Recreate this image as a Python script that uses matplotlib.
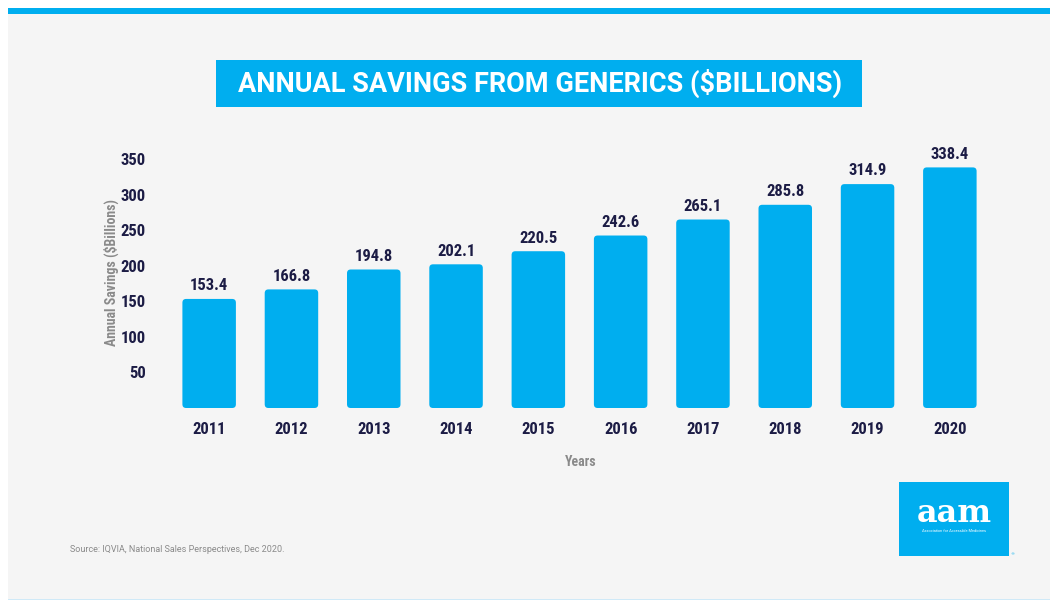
import matplotlib
matplotlib.use("Agg")
import matplotlib.pyplot as plt
from matplotlib.patches import Rectangle, FancyBboxPatch
from matplotlib import font_manager

years = ["2011", "2012", "2013", "2014", "2015", "2016", "2017", "2018", "2019", "2020"]
savings = [153.4, 166.8, 194.8, 202.1, 220.5, 242.6, 265.1, 285.8, 314.9, 338.4]
yticks = [50, 100, 150, 200, 250, 300, 350]

names = {f.name for f in font_manager.fontManager.ttflist}
cond = "Roboto"
for cand in ["Roboto Condensed", "IBM Plex Sans Condensed", "Open Sans Condensed", "Liberation Sans Narrow"]:
    if cand in names:
        cond = cand
        break

BLUE = "#00AEEF"
NAVY = "#1c1c45"
LGREY = "#8a8a8a"
W, H = 1058, 601
fig = plt.figure(figsize=(W / 100, H / 100), dpi=100)
fig.patch.set_facecolor("white")

def fx(x): return x / W
def fy(y): return 1 - y / H

# background panel
fig.patches.append(Rectangle((fx(8), fy(599)), fx(1050) - fx(8), fy(14) - fy(599),
                             transform=fig.transFigure, facecolor="#f5f5f5", edgecolor="none", zorder=-2))
# top blue bar
fig.patches.append(Rectangle((fx(8), fy(14)), fx(1050) - fx(8), fy(8) - fy(14),
                             transform=fig.transFigure, facecolor=BLUE, edgecolor="none", zorder=-1))
# bottom thin line
fig.patches.append(Rectangle((fx(8), fy(600)), fx(1050) - fx(8), fy(598.5) - fy(600),
                             transform=fig.transFigure, facecolor="#cfe9f7", edgecolor="none", zorder=-1))
# title box
fig.patches.append(Rectangle((fx(216), fy(107)), fx(862) - fx(216), fy(60) - fy(107),
                             transform=fig.transFigure, facecolor=BLUE, edgecolor="none", zorder=-1))
fig.text(fx(540), fy(83), "ANNUAL SAVINGS FROM GENERICS ($BILLIONS)", color="white",
         fontsize=19.5, fontweight="bold", family="Roboto", ha="center", va="center")

# axes
left, right = 168, 991
ymax = 360
px_per = 0.711
top = 408 - ymax * px_per
ax = fig.add_axes([fx(left), fy(408), fx(right) - fx(left), fy(top) - fy(408)])
ax.set_zorder(5)
ax.set_facecolor("none")
ax.set_xlim(-0.5, len(years) - 0.5)
ax.set_ylim(0, ymax)
for s in ax.spines.values():
    s.set_visible(False)

bw = 0.65
xpx = (right - left) / len(years)
aspect = (1 / px_per) / (1 / xpx)
for i, v in enumerate(savings):
    p = FancyBboxPatch((i - bw / 2, 0), bw, v, boxstyle="round,pad=0,rounding_size=0.045",
                       mutation_aspect=aspect, facecolor=BLUE, edgecolor="none")
    ax.add_patch(p)
    ax.text(i, v + 8, f"{v:.1f}", ha="center", va="bottom", fontsize=12,
            fontweight="bold", color=NAVY, family=cond)

ax.set_xticks(range(len(years)))
ax.set_xticklabels(years, fontsize=12, fontweight="bold", color=NAVY, family=cond)
ax.set_yticks(yticks)
ax.set_yticklabels([str(t) for t in yticks], fontsize=12, fontweight="bold", color=NAVY, family=cond)
ax.tick_params(axis="both", length=0)
ax.tick_params(axis="x", pad=10)
ax.tick_params(axis="y", pad=16)

fig.text(fx(111), fy(272), "Annual Savings ($Billions)", rotation=90, ha="center", va="center",
         fontsize=10, fontweight="bold", color=LGREY, family=cond)
fig.text(fx(581), fy(462), "Years", ha="center", va="center",
         fontsize=10, fontweight="bold", color=LGREY, family=cond)
fig.text(fx(70), fy(550), "Source: IQVIA, National Sales Perspectives, Dec 2020.", ha="left", va="center",
         fontsize=6.5, color=LGREY, family="Roboto")

# logo
fig.patches.append(Rectangle((fx(899), fy(556)), fx(1009) - fx(899), fy(482) - fy(556),
                             transform=fig.transFigure, facecolor=BLUE, edgecolor="none", zorder=-1))
fig.text(fx(954), fy(513), "aam", ha="center", va="center", fontsize=23, fontweight="bold",
         color="white", family="DejaVu Serif")
fig.text(fx(954), fy(531), "Association for Accessible Medicines", ha="center", va="center",
         fontsize=2.8, color="white", family="Roboto")
fig.text(fx(1012), fy(554), "®", ha="center", va="center", fontsize=3, color=BLUE)

fig.savefig("out.png", dpi=100, facecolor=fig.get_facecolor())
